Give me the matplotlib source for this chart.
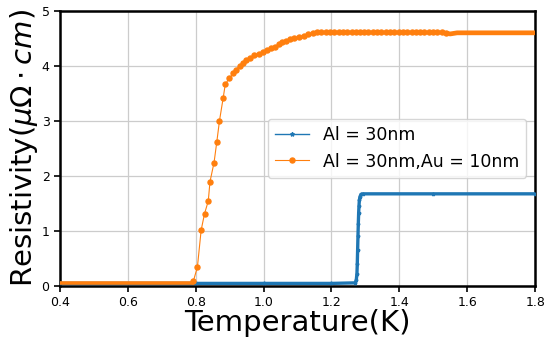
import matplotlib
matplotlib.use("Agg")
import matplotlib.pyplot as plt
from matplotlib.lines import Line2D

# Al 30nm film: R(T) sweep (dense sampling, drawn as a band)
al_T = [0.40, 0.80, 1.000, 1.200, 1.270, 1.273, 1.275, 1.276, 1.277, 1.278,
        1.279, 1.280, 1.281, 1.282, 1.284, 1.287, 1.292, 1.50, 1.80]
al_R = [0.04, 0.04, 0.04, 0.04, 0.05, 0.10, 0.22, 0.40, 0.65, 0.90,
        1.12, 1.32, 1.45, 1.55, 1.62, 1.66, 1.67, 1.67, 1.67]

# Al 30nm / Au 10nm bilayer: densely sampled segments (normal + base)
alau_band_low_T = [0.40, 0.60, 0.79]
alau_band_low_R = [0.05, 0.05, 0.05]
alau_band_high_T = [1.540, 1.550, 1.560, 1.570, 1.80]
alau_band_high_R = [4.59, 4.58, 4.59, 4.60, 4.60]

# Al 30nm / Au 10nm bilayer: individually resolved measurement points
alau_T = [0.793, 0.805, 0.816, 0.826, 0.837, 0.842, 0.854, 0.862, 0.870, 0.881,
          0.887, 0.898, 0.911, 0.919, 0.929, 0.939, 0.949, 0.960, 0.972, 0.986,
          0.998, 1.011, 1.021, 1.033, 1.045, 1.055, 1.067, 1.078, 1.090, 1.104,
          1.118, 1.132, 1.145, 1.157, 1.170, 1.183, 1.195, 1.208, 1.221, 1.233,
          1.246, 1.259, 1.271, 1.284, 1.297, 1.309, 1.322, 1.335, 1.347, 1.360,
          1.373, 1.385, 1.398, 1.411, 1.423, 1.436, 1.449, 1.461, 1.474, 1.487,
          1.499, 1.512, 1.525, 1.537]
alau_R = [0.08, 0.34, 1.01, 1.31, 1.54, 1.89, 2.24, 2.61, 3.00, 3.42,
          3.66, 3.77, 3.86, 3.93, 4.00, 4.06, 4.11, 4.15, 4.19, 4.22,
          4.25, 4.28, 4.32, 4.35, 4.39, 4.43, 4.46, 4.49, 4.51, 4.52,
          4.55, 4.57, 4.60, 4.61, 4.61, 4.61, 4.61, 4.61, 4.61, 4.61,
          4.61, 4.61, 4.61, 4.61, 4.61, 4.61, 4.61, 4.61, 4.61, 4.61,
          4.61, 4.61, 4.61, 4.61, 4.61, 4.61, 4.61, 4.61, 4.61, 4.61,
          4.61, 4.61, 4.61, 4.60]

x_ticks = [0.4, 0.6, 0.8, 1.0, 1.2, 1.4, 1.6, 1.8]
y_ticks = [0, 1, 2, 3, 4, 5]
labels = ["Al = 30nm", "Al = 30nm,Au = 10nm"]

blue = "#1f77b4"
orange = "#ff7f0e"

fig = plt.figure(figsize=(5.5, 3.5), dpi=100)
ax = fig.add_axes([0.109, 0.184, 0.864, 0.785])

ax.plot(al_T, al_R, color=blue, lw=2.4, marker="*", ms=2.5, zorder=3)
ax.plot(alau_band_low_T, alau_band_low_R, color=orange, lw=2.6, zorder=4)
ax.plot(alau_band_high_T, alau_band_high_R, color=orange, lw=3.4,
        solid_capstyle="butt", zorder=4)
ax.plot(alau_T, alau_R, color=orange, lw=0.8, marker="o", ms=3.6, zorder=4)

ax.set_xlim(0.4, 1.8)
ax.set_ylim(0, 5)
ax.set_xticks(x_ticks)
ax.set_yticks(y_ticks)
ax.set_xticklabels([f"{t:.1f}" for t in x_ticks])
ax.tick_params(labelsize=9, width=1.2, length=4, color="black")
ax.grid(True, color="#cccccc", lw=0.9)
ax.set_axisbelow(True)
for side in ax.spines.values():
    side.set_linewidth(1.8)
    side.set_color("black")

ax.set_xlabel("Temperature(K)", fontsize=21, labelpad=0)
ax.set_ylabel(r"Resistivity($\mu\Omega\cdot cm$)", fontsize=21, labelpad=1)

handles = [
    Line2D([], [], color=blue, lw=1.0, marker="*", ms=3),
    Line2D([], [], color=orange, lw=0.8, marker="o", ms=3.6),
]
ax.legend(handles, labels, loc="center right", fontsize=12.5, framealpha=0.8)

fig.savefig("out.png", dpi=100)
